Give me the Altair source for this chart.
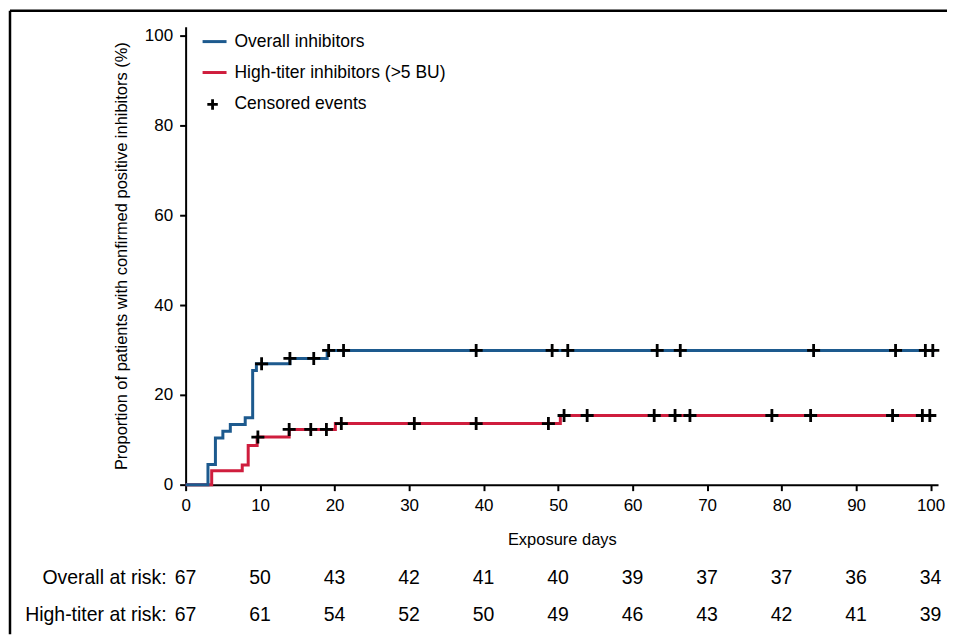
import altair as alt
import pandas as pd

# Kaplan-Meier step points (day where the step starts, cumulative %)
overall_days = [0, 3, 4, 5, 6, 8, 9, 9.5, 14, 19, 100.6]
overall_pct = [0, 4.5, 10.4, 11.9, 13.4, 14.9, 25.4, 26.9, 28.1, 29.9, 29.9]
hightiter_days = [0, 3.5, 7.6, 8.4, 9.6, 13.9, 20.1, 50.3, 100.2]
hightiter_pct = [0, 3.1, 4.4, 8.7, 10.6, 12.3, 13.6, 15.4, 15.4]

# Censored events
overall_cens_days = [10.2, 14.0, 17.2, 19.2, 21.2, 39, 49.2, 51.3, 63.3, 66.4, 84.3, 95.3, 99.3, 100.3]
overall_cens_pct = [26.9, 28.1, 28.1, 29.9, 29.9, 29.9, 29.9, 29.9, 29.9, 29.9, 29.9, 29.9, 29.9, 29.9]
hightiter_cens_days = [9.7, 13.9, 16.8, 18.9, 20.9, 30.7, 39, 48.7, 50.8, 53.9, 62.9, 65.7, 67.7, 78.7, 83.9, 94.9, 98.9, 99.9]
hightiter_cens_pct = [10.6, 12.3, 12.3, 12.3, 13.6, 13.6, 13.6, 13.6, 15.4, 15.4, 15.4, 15.4, 15.4, 15.4, 15.4, 15.4, 15.4, 15.4]

# Numbers at risk
risk_days = [0, 10, 20, 30, 40, 50, 60, 70, 80, 90, 100]
overall_at_risk = [67, 50, 43, 42, 41, 40, 39, 37, 37, 36, 34]
hightiter_at_risk = [67, 61, 54, 52, 50, 49, 46, 43, 42, 41, 39]

x_ticks = [0, 10, 20, 30, 40, 50, 60, 70, 80, 90, 100]
y_ticks = [0, 20, 40, 60, 80, 100]

BLUE = "#1d5a8e"
RED = "#cf1d3d"
FONT = "Liberation Sans"
FS_TICK = 17
FS_LEG = 17.5
FS_RISK = 19.5

W, H = 754, 459

x_scale = alt.Scale(domain=[0, 101], nice=False, zero=False)
y_scale = alt.Scale(domain=[0, 102], nice=False)

xenc = alt.X(
    "day:Q", scale=x_scale,
    axis=alt.Axis(values=x_ticks, title="Exposure days", grid=False, format="d",
                  labelFlush=False,
                  titleFont=FONT, titleFontSize=16.5, titleFontWeight="normal",
                  titlePadding=18, labelPadding=7),
)
yenc = alt.Y(
    "pct:Q", scale=y_scale,
    axis=alt.Axis(values=y_ticks, title="Proportion of patients with confirmed positive inhibitors (%)",
                  grid=False, format="d", labelFlush=False,
                  titleFont=FONT, titleFontSize=16.5, titleFontWeight="normal",
                  titlePadding=15, labelPadding=7),
)

ov = pd.DataFrame({"day": overall_days, "pct": overall_pct})
ht = pd.DataFrame({"day": hightiter_days, "pct": hightiter_pct})
cens = pd.DataFrame({
    "day": overall_cens_days + hightiter_cens_days,
    "pct": overall_cens_pct + hightiter_cens_pct,
})

cross = "M -1 0 L 1 0 M 0 -1 L 0 1"

red_line = alt.Chart(ht).mark_line(interpolate="step-after", color=RED, strokeWidth=3).encode(x=xenc, y=yenc)
blue_line = alt.Chart(ov).mark_line(interpolate="step-after", color=BLUE, strokeWidth=3).encode(x="day:Q", y="pct:Q")
cens_pts = alt.Chart(cens).mark_point(shape=cross, filled=False, stroke="black", strokeWidth=2.8,
                                      size=170, opacity=1).encode(x="day:Q", y="pct:Q")

# risk table
risk = pd.DataFrame({"day": risk_days, "ov": overall_at_risk, "ht": hightiter_at_risk})
risk_ov = alt.Chart(risk).mark_text(font=FONT, fontSize=FS_RISK, baseline="middle", align="center").encode(
    x="day:Q", y=alt.value(553), text="ov:Q")
risk_ht = alt.Chart(risk).mark_text(font=FONT, fontSize=FS_RISK, baseline="middle", align="center").encode(
    x="day:Q", y=alt.value(590), text="ht:Q")
lab_df = pd.DataFrame({"day": [0, 0], "lab": ["Overall at risk:", "High-titer at risk:"]})
risk_lab1 = alt.Chart(lab_df.iloc[[0]]).mark_text(font=FONT, fontSize=FS_RISK, baseline="middle", align="right", dx=-19).encode(
    x="day:Q", y=alt.value(553), text="lab:N")
risk_lab2 = alt.Chart(lab_df.iloc[[1]]).mark_text(font=FONT, fontSize=FS_RISK, baseline="middle", align="right", dx=-19).encode(
    x="day:Q", y=alt.value(590), text="lab:N")

# legend (drawn manually)
leg_names = ["Overall inhibitors", "High-titer inhibitors (>5 BU)", "Censored events"]
base = alt.Chart(pd.DataFrame({"a": [0]}))
leg_blue = base.mark_rule(color=BLUE, strokeWidth=3).encode(x=alt.value(17), x2=alt.value(41), y=alt.value(15))
leg_red = base.mark_rule(color=RED, strokeWidth=3).encode(x=alt.value(17), x2=alt.value(41), y=alt.value(46))
leg_cross = base.mark_point(shape=cross, filled=False, stroke="black", strokeWidth=2.8, size=110, opacity=1).encode(
    x=alt.value(27), y=alt.value(78))
leg_txt = [
    base.mark_text(text=t, font=FONT, fontSize=FS_LEG, align="left", baseline="middle").encode(
        x=alt.value(49), y=alt.value(yy))
    for t, yy in zip(leg_names, [15, 46, 78])
]

# frame lines (top and left) of the cropped figure
frame_top = base.mark_rule(color="black", strokeWidth=2.5).encode(x=alt.value(-176), x2=alt.value(W + 9), y=alt.value(-16))
frame_left = base.mark_rule(color="black", strokeWidth=2.5).encode(x=alt.value(-176), y=alt.value(-16), y2=alt.value(H + 150))

chart = alt.layer(
    red_line, blue_line, cens_pts,
    risk_ov, risk_ht, risk_lab1, risk_lab2,
    leg_blue, leg_red, leg_cross, *leg_txt,
    frame_top, frame_left,
).properties(
    width=W, height=H,
    autosize=alt.AutoSizeParams(type="none"),
    padding={"left": 178, "top": 18, "right": 9, "bottom": 150},
).configure_view(stroke=None).configure_axis(
    labelFont=FONT, labelFontSize=FS_TICK, labelColor="black",
    domainColor="black", domainWidth=2, tickColor="black", tickWidth=2, tickSize=6,
    titleColor="black",
)

chart.save("out.html", embed_options={"renderer": "svg", "actions": False})
